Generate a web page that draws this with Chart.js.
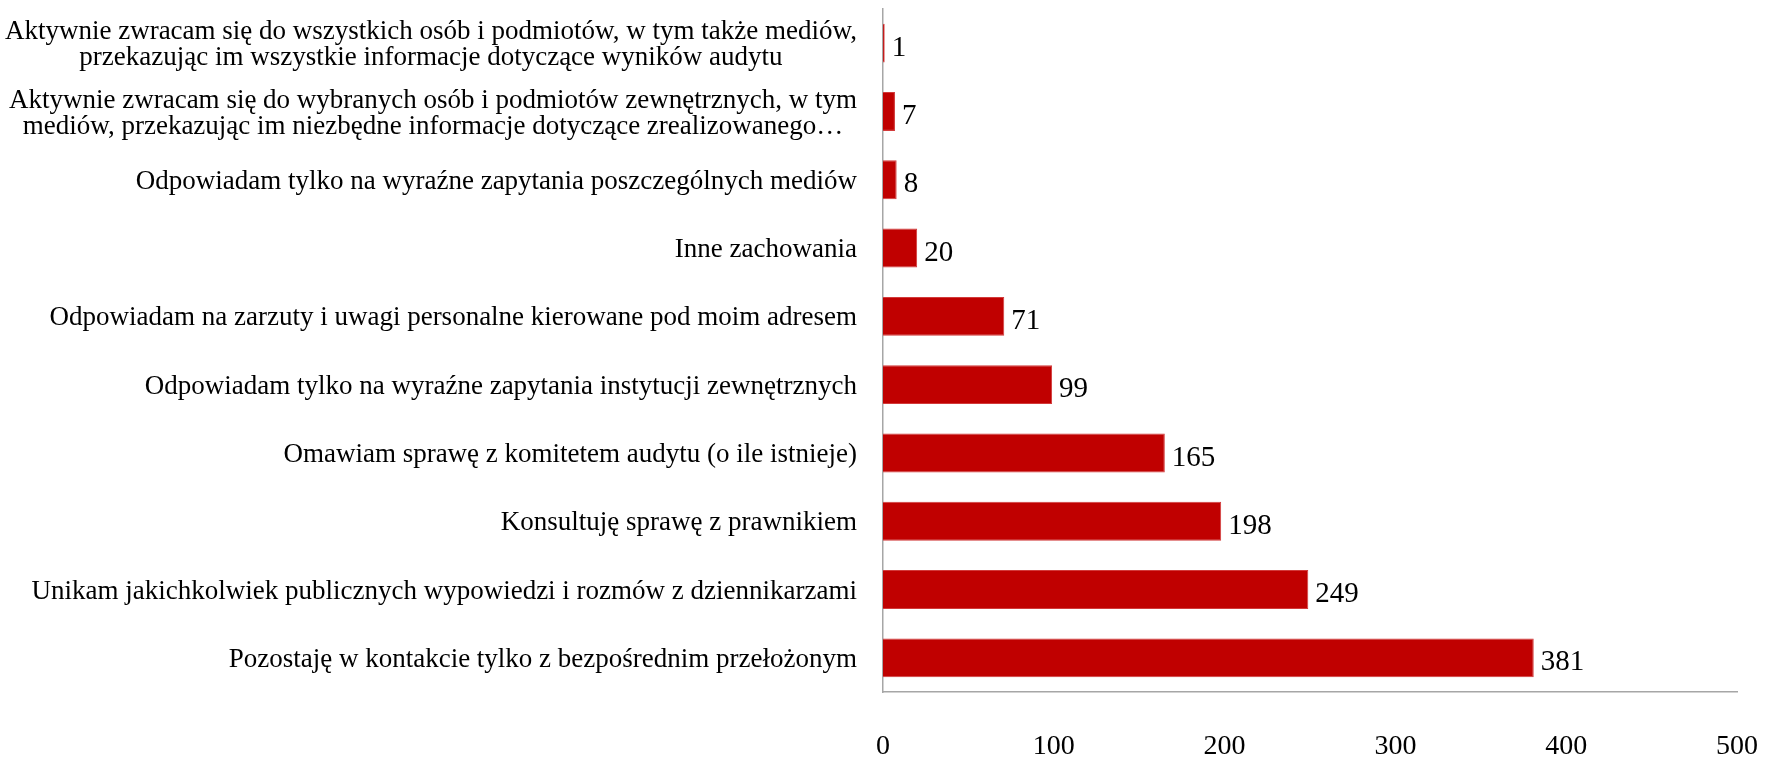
<!DOCTYPE html>
<html>
<head>
<meta charset="utf-8">
<script src="https://cdn.jsdelivr.net/npm/chart.js@4/dist/chart.umd.min.js"></script>
<style>
  html, body { margin: 0; padding: 0; background: #fff; }
  #wrap { width: 1777px; height: 757px; }
</style>
</head>
<body>
<div id="wrap"><canvas id="chart"></canvas></div>
<script>
// kategorie (wiersze wykresu, od góry)
const categories = [
    ["Aktywnie zwracam się do wszystkich osób i podmiotów, w tym także mediów,",
     "przekazując im wszystkie informacje dotyczące wyników audytu"],
    ["Aktywnie zwracam się do wybranych osób i podmiotów zewnętrznych, w tym",
     "mediów, przekazując im niezbędne informacje dotyczące zrealizowanego…"],
    ["Odpowiadam tylko na wyraźne zapytania poszczególnych mediów"],
    ["Inne zachowania"],
    ["Odpowiadam na zarzuty i uwagi personalne kierowane pod moim adresem"],
    ["Odpowiadam tylko na wyraźne zapytania instytucji zewnętrznych"],
    ["Omawiam sprawę z komitetem audytu (o ile istnieje)"],
    ["Konsultuję sprawę z prawnikiem"],
    ["Unikam jakichkolwiek publicznych wypowiedzi i rozmów z dziennikarzami"],
    ["Pozostaję w kontakcie tylko z bezpośrednim przełożonym"]
];
const values = [1, 7, 8, 20, 71, 99, 165, 198, 249, 381];
const xTicks = [0, 100, 200, 300, 400, 500];

const serif = '"Liberation Serif", "Times New Roman", serif';

// etykiety kategorii - wiersze wyśrodkowane względem siebie, blok do prawej
const categoryLabels = {
    id: 'categoryLabels',
    afterDraw(chart) {
        const ctx = chart.ctx;
        const yScale = chart.scales.y;
        const right = chart.chartArea.left - 26;
        const lineH = 26;
        ctx.save();
        ctx.font = '27px ' + serif;
        ctx.fillStyle = '#000';
        ctx.textBaseline = 'middle';
        ctx.textAlign = 'center';
        categories.forEach((lines, i) => {
            const y = yScale.getPixelForValue(i) + 2;
            const widest = Math.max(...lines.map(l => ctx.measureText(l).width));
            const cx = right - widest / 2;
            const y0 = y - (lines.length - 1) * lineH / 2;
            lines.forEach((l, j) => ctx.fillText(l, cx, y0 + j * lineH));
        });
        ctx.restore();
    }
};

// wartości na końcu słupków
const valueLabels = {
    id: 'valueLabels',
    afterDatasetsDraw(chart) {
        const ctx = chart.ctx;
        const meta = chart.getDatasetMeta(0);
        ctx.save();
        ctx.font = '29px ' + serif;
        ctx.fillStyle = '#000';
        ctx.textBaseline = 'middle';
        ctx.textAlign = 'left';
        meta.data.forEach((bar, i) => {
            ctx.fillText(String(values[i]), bar.x + 7, bar.y + 5);
        });
        ctx.restore();
    }
};

const ctx = document.getElementById('chart').getContext('2d');
new Chart(ctx, {
    type: 'bar',
    data: {
        labels: categories,
        datasets: [{
            data: values,
            backgroundColor: '#C00000',
            borderColor: '#D23A3A',
            borderWidth: 1,
            barPercentage: 0.57,
            categoryPercentage: 1.0
        }]
    },
    options: {
        indexAxis: 'y',
        responsive: true,
        maintainAspectRatio: false,
        animation: false,
        layout: {
            padding: { top: 9, right: 40, left: 0, bottom: 0 }
        },
        scales: {
            x: {
                min: 0,
                max: 500,
                afterBuildTicks(scale) {
                    scale.ticks = xTicks.map(v => ({ value: v }));
                },
                afterFit(scale) {
                    scale.height = 65;
                    scale.paddingLeft = 0;
                    scale.paddingRight = 0;
                },
                grid: { display: false, drawTicks: false },
                border: { display: true, color: '#A6A6A6', width: 1.5 },
                ticks: {
                    padding: 38,
                    color: '#000',
                    font: { family: serif, size: 28 }
                }
            },
            y: {
                afterFit(scale) {
                    scale.width = 883;
                },
                grid: { display: false, drawTicks: false },
                border: { display: true, color: '#A6A6A6', width: 1.5 },
                ticks: { display: false }
            }
        },
        plugins: {
            legend: { display: false },
            tooltip: { enabled: false }
        }
    },
    plugins: [categoryLabels, valueLabels]
});
</script>
</body>
</html>
